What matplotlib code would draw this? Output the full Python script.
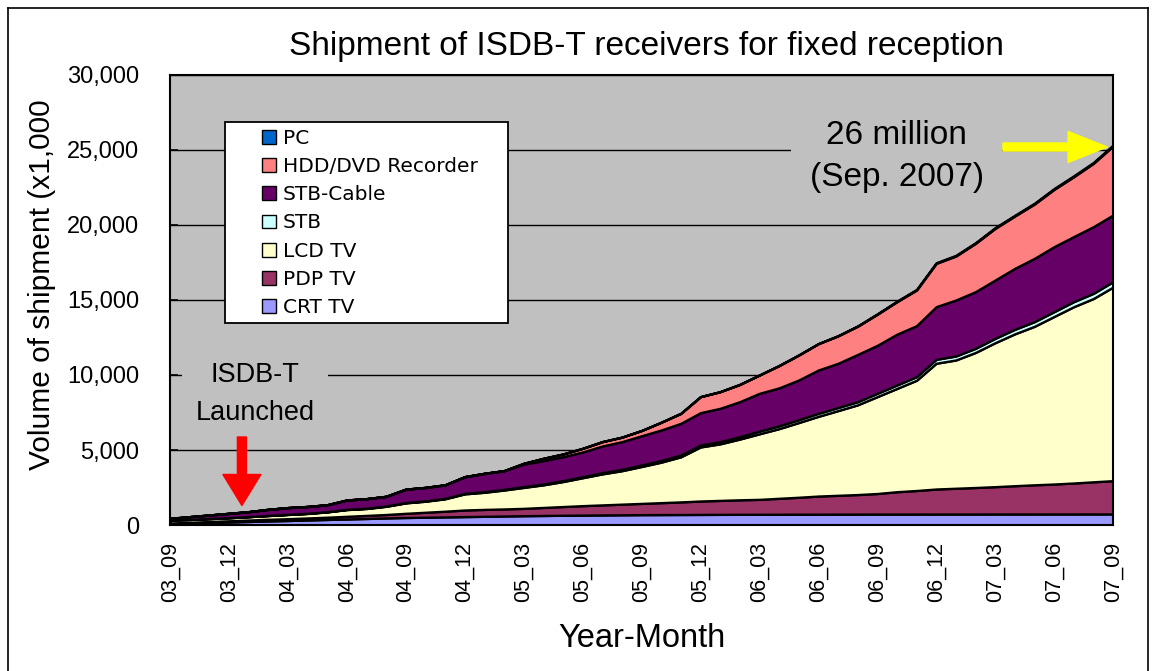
import matplotlib
matplotlib.use("Agg")
import matplotlib.pyplot as plt
import numpy as np
from matplotlib.patches import Rectangle
from matplotlib.lines import Line2D

# Cumulative shipments (x1,000), monthly from 2003-09 to 2007-09
crt_tv = [100, 130, 165, 200, 235, 270, 300, 335, 370, 400, 435, 470, 500, 520, 540, 560, 580,
          600, 620, 635, 650, 660, 670, 680, 690, 695, 700, 705, 710, 712, 715, 718, 720, 722,
          724, 726, 728, 729, 730, 731, 732, 733, 734, 735, 735, 736, 736, 737, 737]
pdp_tv = [30, 50, 65, 80, 95, 110, 120, 135, 150, 180, 205, 230, 280, 330, 380, 440, 460, 470,
          490, 535, 580, 630, 670, 710, 750, 795, 840, 895, 930, 968, 995, 1062, 1130, 1208,
          1256, 1304, 1372, 1491, 1570, 1669, 1718, 1767, 1822, 1885, 1945, 1997, 2064, 2143, 2219]
lcd_tv = [203, 190, 195, 204, 225, 250, 281, 300, 354, 449, 460, 547, 695, 735, 828, 1076, 1142,
          1263, 1396, 1508, 1666, 1862, 2069, 2231, 2460, 2700, 3007, 3603, 3771, 4049, 4370,
          4645, 4980, 5314, 5645, 5982, 6458, 6883, 7349, 8384, 8552, 9003, 9598, 10124, 10566,
          11169, 11754, 12219, 12906]
stb = [0, 0, 5, 5, 5, 10, 10, 10, 15, 15, 20, 20, 25, 25, 30, 35, 40, 45, 50, 55, 60, 70, 80,
       90, 100, 110, 120, 130, 145, 160, 180, 185, 190, 200, 205, 210, 220, 230, 240, 260, 265,
       275, 290, 300, 310, 320, 335, 345, 360]
stb_cable = [111, 186, 237, 289, 329, 404, 450, 455, 460, 623, 636, 645, 889, 895, 900, 1111,
             1222, 1244, 1511, 1556, 1600, 1645, 1778, 1845, 1950, 2033, 2111, 2156, 2222, 2333,
             2518, 2530, 2647, 2889, 2948, 3150, 3200, 3389, 3400, 3512, 3733, 3778, 3889, 4067,
             4222, 4334, 4340, 4445, 4445]
hdd_dvd = [0, 0, 0, 0, 0, 0, 0, 0, 0, 0, 0, 0, 0, 0, 0, 0, 0, 0, 44, 155, 177, 244, 289, 300,
           350, 517, 666, 1067, 1111, 1150, 1222, 1489, 1666, 1757, 1832, 1880, 2072, 2167, 2378,
           2888, 2933, 3222, 3445, 3489, 3622, 3822, 3993, 4222, 4600]
pc = [0, 0, 0, 0, 0, 0, 0, 0, 0, 0, 0, 0, 0, 0, 0, 0, 0, 0, 0, 0, 0, 0, 0, 0, 0, 0, 0, 0, 0,
      0, 0, 0, 0, 0, 10, 20, 30, 35, 40, 40, 45, 45, 50, 50, 55, 55, 60, 60, 65]

series_names = ["CRT TV", "PDP TV", "LCD TV", "STB", "STB-Cable", "HDD/DVD Recorder", "PC"]
series_colors = ["#9999FF", "#993366", "#FFFFCC", "#CCFFFF", "#660066", "#FF8080", "#0066CC"]
quarter_labels = ["03_09", "03_12", "04_03", "04_06", "04_09", "04_12", "05_03", "05_06",
                  "05_09", "05_12", "06_03", "06_06", "06_09", "06_12", "07_03", "07_06", "07_09"]

plt.rcParams['font.family'] = ['Liberation Sans', 'DejaVu Sans']

W, H = 1160, 671
AX_L, AX_R, AX_T, AX_B = 170, 1113, 75, 525
PLOT_BG = "#C0C0C0"
fig = plt.figure(figsize=(W / 100, H / 100), dpi=100)
ax = fig.add_axes([AX_L / W, 1 - AX_B / H, (AX_R - AX_L) / W, (AX_B - AX_T) / H])
ax.set_facecolor(PLOT_BG)


def ax_frac(px, py):
    """Pixel position in the figure -> axes fraction."""
    return (px - AX_L) / (AX_R - AX_L), (AX_B - py) / (AX_B - AX_T)


months = np.arange(len(crt_tv))
values = [crt_tv, pdp_tv, lcd_tv, stb, stb_cable, hdd_dvd, pc]
ax.stackplot(months, *values, colors=series_colors, edgecolor="black", linewidth=1.7,
             zorder=2)

ax.set_xlim(0, len(months) - 1)
ax.set_ylim(0, 30000)
ax.set_yticks(np.arange(0, 30001, 5000))
ax.set_yticklabels([f"{v:,}" for v in range(0, 30001, 5000)], fontsize=17)
ax.set_xticks(np.arange(0, len(months), 3))
ax.set_xticklabels(quarter_labels, rotation=90, fontsize=15.5)
ax.tick_params(axis="y", direction="in", length=6, width=1.2, pad=22)
ax.tick_params(axis="x", direction="in", length=6, width=1.2, pad=12)
ax.set_axisbelow(True)
ax.yaxis.grid(True, color="black", linewidth=1.0)
for s in ax.spines.values():
    s.set_linewidth(1.5)
    s.set_color("black")

ax.set_xlabel("Year-Month", fontsize=23.5, labelpad=15)
fig.text(42 / W, 1 - 285 / H, "Volume of shipment (x1,000", rotation=90, fontsize=21.5,
         ha="center", va="center")
fig.text(646 / W, 1 - 46 / H, "Shipment of ISDB-T receivers for fixed reception",
         fontsize=24, ha="center", va="center")

# Legend box, top series first
x0, y0 = ax_frac(225, 323)
x1, y1 = ax_frac(508, 122)
ax.add_patch(Rectangle((x0, y0), x1 - x0, y1 - y0, transform=ax.transAxes,
                       facecolor="white", edgecolor="black", linewidth=1.3, zorder=6))
handles = [Rectangle((0, 0), 1, 1, facecolor=c, edgecolor="black", linewidth=1.0)
           for c in series_colors[::-1]]
leg = ax.legend(handles, series_names[::-1], loc="upper left",
                bbox_to_anchor=ax_frac(262, 129), frameon=False,
                prop={"family": "DejaVu Sans", "size": 14.5},
                handlelength=0.68, handleheight=0.68, handletextpad=0.35,
                labelspacing=0.455, borderpad=0.0, borderaxespad=0)
leg.set_zorder(7)

# Launch annotation
ax.text(4.33, 8700, "ISDB-T\nLaunched", fontsize=19.5, ha="center", va="center",
        linespacing=1.6, zorder=5,
        bbox=dict(boxstyle="square,pad=0.5", facecolor=PLOT_BG, edgecolor="none"))
ax.annotate("", xy=(3.66, 1300), xytext=(3.66, 5867),
            arrowprops=dict(arrowstyle="simple,head_width=2.28,head_length=1.86,tail_width=0.54",
                            color="red", shrinkA=0, shrinkB=0, mutation_scale=12),
            zorder=5)

# Latest total annotation
ax.text(37.0, 24570, "26 million\n(Sep. 2007)", fontsize=24, ha="center", va="center",
        linespacing=1.45, zorder=5,
        bbox=dict(boxstyle="square,pad=0.55", facecolor=PLOT_BG, edgecolor="none"))
ax.annotate("", xy=(47.7, 25200), xytext=(42.4, 25200),
            arrowprops=dict(arrowstyle="simple,head_width=1.86,head_length=2.34,tail_width=0.48",
                            color="yellow", shrinkA=0, shrinkB=0, mutation_scale=12),
            zorder=5, annotation_clip=False)

# Outer frame of the chart
for (xa, ya, xb, yb) in [(8, 8, 8, H), (8, 8, 1148, 8), (1148, 8, 1148, H)]:
    fig.add_artist(Line2D([xa / W, xb / W], [1 - ya / H, 1 - yb / H],
                          transform=fig.transFigure, color="black", linewidth=1.2))

fig.savefig("out.png", dpi=100)
